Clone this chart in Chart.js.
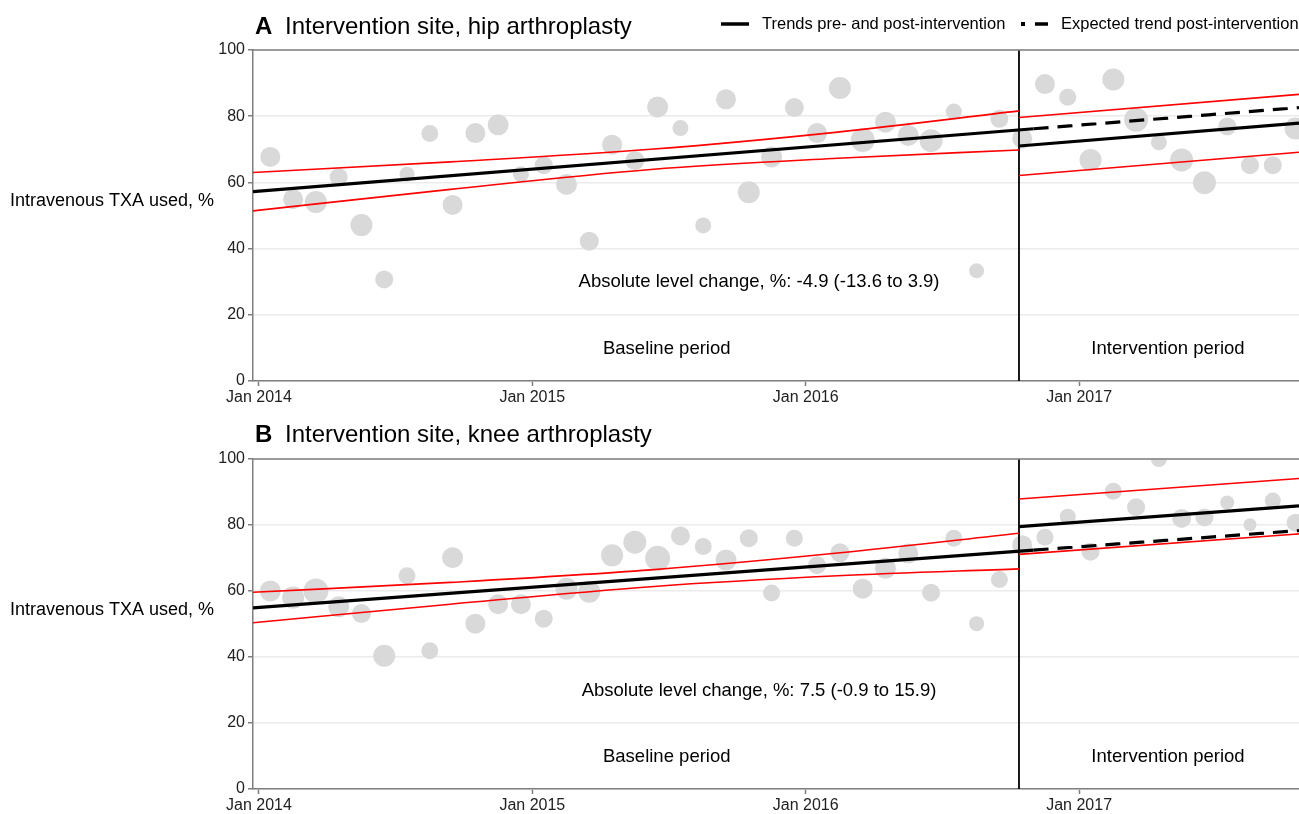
<!DOCTYPE html>
<html><head><meta charset="utf-8">
<script src="https://cdn.jsdelivr.net/npm/chart.js@4.4.1/dist/chart.umd.min.js"></script>
<style>
html,body{margin:0;padding:0;background:#fff;overflow:hidden;width:1299px;height:814px;}
.wrap{position:absolute;left:0;width:1299px;height:410px;}
canvas{display:block;}
</style></head><body>
<div class="wrap" style="top:0"><canvas id="cA" width="1299" height="410"></canvas></div>
<div class="wrap" style="top:408px"><canvas id="cB" width="1299" height="410"></canvas></div>
<script>
// ---------- DATA ----------
const monthLabels = [
 '2014-01','2014-02','2014-03','2014-04','2014-05','2014-06','2014-07','2014-08','2014-09','2014-10','2014-11','2014-12',
 '2015-01','2015-02','2015-03','2015-04','2015-05','2015-06','2015-07','2015-08','2015-09','2015-10','2015-11','2015-12',
 '2016-01','2016-02','2016-03','2016-04','2016-05','2016-06','2016-07','2016-08','2016-09','2016-10','2016-11','2016-12',
 '2017-01','2017-02','2017-03','2017-04','2017-05','2017-06','2017-07','2017-08','2017-09','2017-10'];
const xTickMonths = [0, 12, 24, 36];
const xTickLabels = ['Jan 2014', 'Jan 2015', 'Jan 2016', 'Jan 2017'];
const yTicks = [0, 20, 40, 60, 80, 100];
const interventionMonth = 33.36;

// Panel A: hip arthroplasty, % intravenous TXA per month
const hipValues = [67.7,54.9,54.1,61.6,47.1,30.7,62.5,74.8,53.2,74.9,77.4,62.5,
 65.2,59.4,42.2,71.4,66.6,82.8,76.4,47.0,85.1,57.0,67.7,82.6,
 74.9,88.5,72.8,78.2,74.2,72.6,81.4,33.3,79.2,73.3,89.7,85.7,
 66.8,91.1,78.9,72.1,66.8,59.9,76.9,65.2,65.2,76.3];
// bubble size (monthly volume)
const hipVolume = [10,10,11,9,11,9,7.5,8.5,10,10,10.5,8,
 9,10.5,9.5,10,9.5,10.5,8,8,10,11,10.5,9.5,
 10,11,12,10.5,10.5,11.5,8,7.5,9,10,10,8.5,
 11,11,12,8,11.5,11.5,9,9,9,11];

// Panel B: knee arthroplasty
const kneeValues = [60.0,58.0,60.0,55.2,53.2,40.4,64.6,41.9,70.1,50.1,56.0,56.0,
 51.6,60.7,59.8,70.8,74.8,69.9,76.7,73.5,69.4,76.0,59.4,76.0,
 67.8,71.6,60.7,66.9,71.4,59.5,76.0,50.1,63.5,73.9,76.3,82.5,
 71.9,90.2,85.4,100,82.0,82.3,86.8,80.1,87.4,80.7];
const kneeVolume = [10.5,11,12.5,10.5,9.5,11,8.5,8.5,10.5,10,10,10,
 9,11,11,11,11.5,12.5,9.5,8.5,10.5,9,8.5,8.5,
 9,9.5,10,10.5,10,9,8.5,7.5,8.5,10,8.5,8,
 9,8.5,9,8,9.5,9,7,6.5,8,9];

// Trend lines (month since Jan 2014, %)
const preMonths = [-0.26, 34];
const postMonths = [33.36, 45.65];
const expMonths = [34, 45.65];
const bandPreMonths = [-0.26, 8.4, 17.2, 25.4, 33.36];
const bandPostMonths = [33.36, 45.65];

const hipPre = [57.2, 76.2];
const hipPost = [71.0, 77.9];
const hipExpected = [76.2, 82.6];
const hipUpperPre = [63.0, 66.2, 70.0, 75.2, 81.6];
const hipLowerPre = [51.4, 57.9, 63.9, 67.3, 69.8];
const hipUpperPost = [79.6, 86.6];
const hipLowerPost = [62.1, 69.1];

const kneePre = [54.9, 72.4];
const kneePost = [79.5, 85.8];
const kneeExpected = [72.4, 78.3];
const kneeUpperPre = [59.6, 62.6, 66.4, 71.5, 77.5];
const kneeLowerPre = [50.4, 56.0, 61.3, 64.6, 66.7];
const kneeUpperPost = [87.9, 94.1];
const kneeLowerPost = [71.1, 77.3];

// ---------- HELPERS ----------
const FONT = '"Liberation Sans", Arial, Helvetica, sans-serif';
function monthX(label){ const [y,m] = label.split('-').map(Number); return (y-2014)*12 + (m-1) + 0.5; }
function pts(xs, ys){ return xs.map((x,i)=>({x:x, y:ys[i]})); }
function lineDs(data, color, width, dash){
  return {type:'line', data:data, borderColor:color, borderWidth:width, borderDash:dash||[],
          pointRadius:0, pointHoverRadius:0, fill:false, tension:0, cubicInterpolationMode:'monotone', order:1, clip:0};
}

function overlayPlugin(cfg){
  return {
    id:'overlay'+cfg.letter,
    afterDraw(chart){
      const ctx = chart.ctx, ca = chart.chartArea, xs = chart.scales.x, ys = chart.scales.y;
      ctx.save();
      ctx.strokeStyle = '#7f7f7f'; ctx.lineWidth = 1.5;
      ctx.beginPath(); ctx.moveTo(ca.left, ca.top); ctx.lineTo(ca.right, ca.top); ctx.stroke();
      ctx.fillStyle = '#000'; ctx.textBaseline = 'middle'; ctx.textAlign = 'left';
      ctx.font = 'bold 24px ' + FONT;
      ctx.fillText(cfg.letter, 255, cfg.titleY);
      ctx.font = '24px ' + FONT;
      ctx.fillText(cfg.title, 285, cfg.titleY);
      ctx.font = '18px ' + FONT;
      ctx.fillText('Intravenous TXA used, %', 10, (ca.top + ca.bottom)/2 - 14);
      ctx.textAlign = 'center';
      ctx.font = '18.5px ' + FONT;
      ctx.fillText(cfg.change, xs.getPixelForValue(21.95), ys.getPixelForValue(29.8));
      ctx.fillText('Baseline period', xs.getPixelForValue(17.9), ys.getPixelForValue(9.7));
      ctx.fillText('Intervention period', xs.getPixelForValue(39.9), ys.getPixelForValue(9.7));
      if (cfg.legend){
        ctx.textAlign = 'left';
        ctx.font = '16.5px ' + FONT;
        ctx.strokeStyle = '#000'; ctx.lineWidth = 3.5;
        ctx.beginPath(); ctx.moveTo(721, 24); ctx.lineTo(749, 24); ctx.stroke();
        ctx.fillText('Trends pre- and post-intervention', 762, 24);
        ctx.fillRect(1021, 22, 4, 4);
        ctx.beginPath(); ctx.moveTo(1035, 24); ctx.lineTo(1048, 24); ctx.stroke();
        ctx.fillText('Expected trend post-intervention', 1061, 24);
      }
      ctx.restore();
    }
  };
}

function makeChart(id, values, volume, lines, cfg){
  const bubbles = monthLabels.map((m,i)=>({x:monthX(m), y:values[i], r:volume[i]}));
  const datasets = [
    lineDs(pts(preMonths, lines.pre), '#000', 3.2),
    lineDs(pts(postMonths, lines.post), '#000', 3.2),
    lineDs(pts(expMonths, lines.exp), '#000', 3.2, [15, 9]),
    lineDs(pts(bandPreMonths, lines.upPre), '#ff0000', 1.6),
    lineDs(pts(bandPreMonths, lines.loPre), '#ff0000', 1.6),
    lineDs(pts(bandPostMonths, lines.upPost), '#ff0000', 1.6),
    lineDs(pts(bandPostMonths, lines.loPost), '#ff0000', 1.6),
    lineDs(pts([interventionMonth, interventionMonth], [0, 100]), '#000', 1.8),
    {type:'bubble', data:bubbles, backgroundColor:'#d9d9d9', borderWidth:0, hoverRadius:0, order:2, clip:0}
  ];
  return new Chart(document.getElementById(id), {
    type:'scatter',
    data:{datasets:datasets},
    options:{
      responsive:false, animation:false, devicePixelRatio:1,
      layout:{autoPadding:false, padding:{top:cfg.padTop, left:0, right:0, bottom:0}},
      plugins:{legend:{display:false}, tooltip:{enabled:false}},
      events:[],
      scales:{
        x:{type:'linear', min:-0.26, max:45.65,
           afterBuildTicks:(s)=>{ s.ticks = xTickMonths.map(v=>({value:v})); },
           afterFit:(s)=>{ s.height = cfg.xHeight; },
           ticks:{callback:(v,i)=>xTickLabels[i], font:{family:FONT, size:16}, color:'#222', padding:2, maxRotation:0, autoSkip:false},
           grid:{drawOnChartArea:false, drawTicks:true, tickLength:5, tickColor:'#7f7f7f', tickWidth:1.5},
           border:{color:'#7f7f7f', width:1.5}},
        y:{type:'linear', min:0, max:100,
           afterBuildTicks:(s)=>{ s.ticks = yTicks.map(v=>({value:v})); },
           afterFit:(s)=>{ s.width = 253; },
           ticks:{font:{family:FONT, size:16}, color:'#222', padding:3},
           grid:{color:'#ebebeb', lineWidth:1.5, drawTicks:true, tickLength:5, tickColor:'#7f7f7f', tickWidth:1.5},
           border:{color:'#7f7f7f', width:1.5}}
      }
    },
    plugins:[overlayPlugin(cfg)]
  });
}

makeChart('cA', hipValues, hipVolume,
  {pre:hipPre, post:hipPost, exp:hipExpected, upPre:hipUpperPre, loPre:hipLowerPre, upPost:hipUpperPost, loPost:hipLowerPost},
  {letter:'A', title:'Intervention site, hip arthroplasty', titleY:27, change:'Absolute level change, %: -4.9 (-13.6 to 3.9)', legend:true, padTop:50, xHeight:29});
makeChart('cB', kneeValues, kneeVolume,
  {pre:kneePre, post:kneePost, exp:kneeExpected, upPre:kneeUpperPre, loPre:kneeLowerPre, upPost:kneeUpperPost, loPost:kneeLowerPost},
  {letter:'B', title:'Intervention site, knee arthroplasty', titleY:27, change:'Absolute level change, %: 7.5 (-0.9 to 15.9)', legend:false, padTop:51, xHeight:29});
</script>
</body></html>
